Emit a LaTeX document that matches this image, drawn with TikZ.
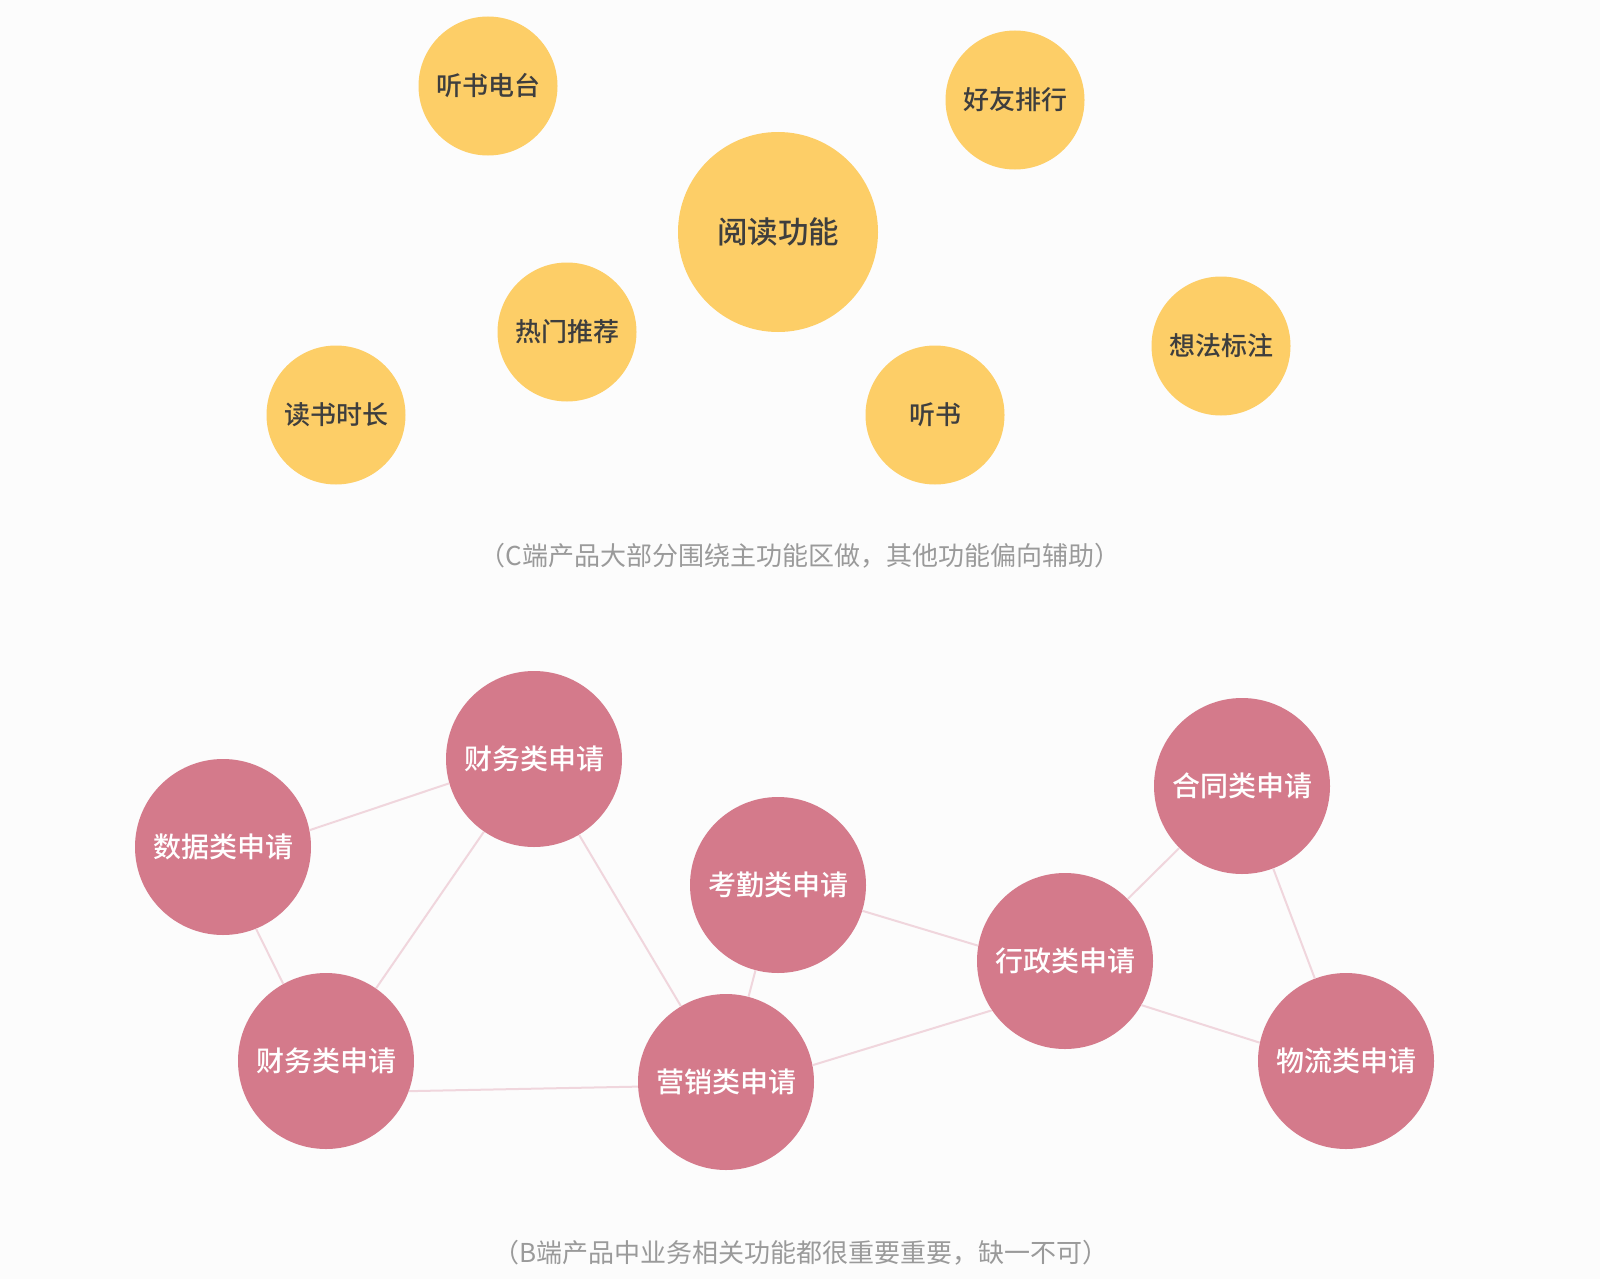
\documentclass[tikz,border=0pt]{standalone}
\usepackage{fontspec}
\setmainfont{Noto Sans CJK SC}
\newfontfamily\cjk{Noto Sans CJK SC}
\newfontfamily\cjkmed{Noto Sans CJK SC Medium}
\definecolor{bgc}{HTML}{FCFCFC}
\definecolor{yel}{HTML}{FDCE67}
\definecolor{pnk}{HTML}{D47A8B}
\definecolor{lnk}{HTML}{F0D6DD}
\definecolor{dtx}{HTML}{3E3E3E}
\definecolor{cap}{HTML}{9A9A9A}
\tikzset{
  ybub/.style={circle, fill=yel, inner sep=0pt, minimum size=139pt, text=dtx, font=\cjkmed\fontsize{26}{30}\selectfont},
  ymain/.style={ybub, minimum size=200pt, font=\cjkmed\fontsize{30.5}{34}\selectfont},
  pbub/.style={circle, fill=pnk, inner sep=0pt, minimum size=176pt, text=white, font=\cjkmed\fontsize{28}{32}\selectfont},
  link/.style={draw=lnk, line width=2pt},
  captxt/.style={text=cap, font=\cjk\fontsize{26}{30}\selectfont, inner sep=0pt}
}
\begin{document}
\begin{tikzpicture}[x=1pt,y=-1pt]
\fill[bgc] (0,0) rectangle (1600,1279);
\useasboundingbox (0,0) rectangle (1600,1279);
% top group
\node[ybub] (tsdt) at (488,86) {听书电台};
\node[ybub] (hyph) at (1015,100) {好友排行};
\node[ymain] (ydgn) at (778,232) {阅读功能};
\node[ybub] (rmtj) at (567,332) {热门推荐};
\node[ybub] (dssc) at (336,415) {读书时长};
\node[ybub] (ts) at (935,415) {听书};
\node[ybub] (xfbz) at (1221,346) {想法标注};
\node[captxt] (capc) at (800,556) {（C端产品大部分围绕主功能区做，其他功能偏向辅助）};
% bottom group
\node[pbub] (cw1) at (534,759) {财务类申请};
\node[pbub] (sj) at (223,847) {数据类申请};
\node[pbub] (kq) at (778,885) {考勤类申请};
\node[pbub] (ht) at (1242,786) {合同类申请};
\node[pbub] (xz) at (1065,961) {行政类申请};
\node[pbub] (cw2) at (326,1061) {财务类申请};
\node[pbub] (yx) at (726,1082) {营销类申请};
\node[pbub] (wl) at (1346,1061) {物流类申请};
\draw[link] (sj.11) -- (cw1.196);
\draw[link] (sj.-68) -- (cw2.119);
\draw[link] (cw1) -- (cw2);
\draw[link] (cw1) -- (yx);
\draw[link] (cw2.-20) -- (yx.183);
\draw[link] (kq) -- (yx);
\draw[link] (kq.-17) -- (xz.170.6);
\draw[link] (yx.11) -- (xz.214);
\draw[link] (xz) -- (ht);
\draw[link] (xz.-30) -- (wl.168);
\draw[link] (ht) -- (wl);
\node[captxt] (capb) at (801,1253) {（B端产品中业务相关功能都很重要重要，缺一不可）};
\end{tikzpicture}
\end{document}
